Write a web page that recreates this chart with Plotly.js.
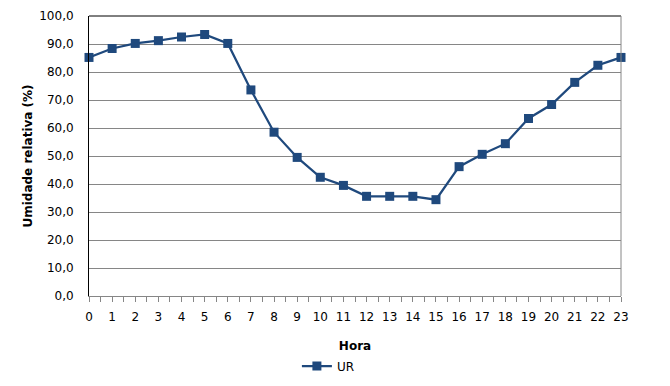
<!DOCTYPE html>
<html>
<head>
<meta charset="utf-8">
<script src="https://cdn.plot.ly/plotly-3.0.1.min.js"></script>
<style>html,body{margin:0;padding:0;background:#fff;}#chart{width:670px;height:386px;}</style>
</head>
<body>
<div id="chart"></div>
<script>
const hours = [0,1,2,3,4,5,6,7,8,9,10,11,12,13,14,15,16,17,18,19,20,21,22,23];
const ur = [85.2,88.4,90.2,91.2,92.5,93.4,90.2,73.6,58.5,49.5,42.4,39.5,35.6,35.6,35.6,34.4,46.2,50.6,54.4,63.4,68.4,76.3,82.4,85.2];
const yTicks = [0,10,20,30,40,50,60,70,80,90,100];
const yTickText = yTicks.map(v => v.toFixed(1).replace('.', ','));
const seriesName = 'UR';
const color = '#1F497D';

const trace = {
  x: hours, y: ur, type: 'scatter', mode: 'lines+markers', name: seriesName,
  line: {color: color, width: 2.25},
  marker: {symbol: 'square', size: 9, color: color},
  cliponaxis: false
};

const layout = {
  width: 670, height: 386,
  margin: {l: 89, r: 49, t: 16, b: 90, autoexpand: false},
  paper_bgcolor: '#fff', plot_bgcolor: '#fff',
  font: {family: 'DejaVu Sans, Verdana, sans-serif', size: 12, color: '#000'},
  showlegend: true,
  legend: {orientation: 'h', x: 0.45, xanchor: 'center', y: -0.25, yanchor: 'middle', font: {size: 12}},
  xaxis: {
    range: [0, 23], tickvals: hours, ticktext: hours.map(String), automargin: false,
    ticks: 'outside', ticklen: 5, tickcolor: '#868686', tickwidth: 1,
    minor: {dtick: 0.5, ticks: 'outside', ticklen: 5, tickcolor: '#868686', showgrid: false},
    showline: true, linecolor: '#868686', linewidth: 1,
    showgrid: false, zeroline: false, ticklabelstandoff: 5,
    title: {text: '<b>Hora</b>', font: {size: 12}, standoff: 18}
  },
  yaxis: {
    range: [0, 100], tickvals: yTicks, ticktext: yTickText, automargin: false,
    ticks: '', showline: true, linecolor: '#000', linewidth: 1,
    showgrid: true, gridcolor: '#868686', gridwidth: 1, zeroline: false,
    ticklabelstandoff: 12,
    title: {text: '<b>Umidade relativa (%)</b>', font: {size: 12}, standoff: 4}
  },
  shapes: [
    {type: 'line', xref: 'paper', yref: 'paper', x0: 0, x1: 1, y0: 1, y1: 1, line: {color: '#000', width: 1}},
    {type: 'line', xref: 'paper', yref: 'paper', x0: 1, x1: 1, y0: 0, y1: 1, line: {color: '#868686', width: 1}}
  ]
};

Plotly.newPlot('chart', [trace], layout, {displayModeBar: false, staticPlot: true});
</script>
</body>
</html>
